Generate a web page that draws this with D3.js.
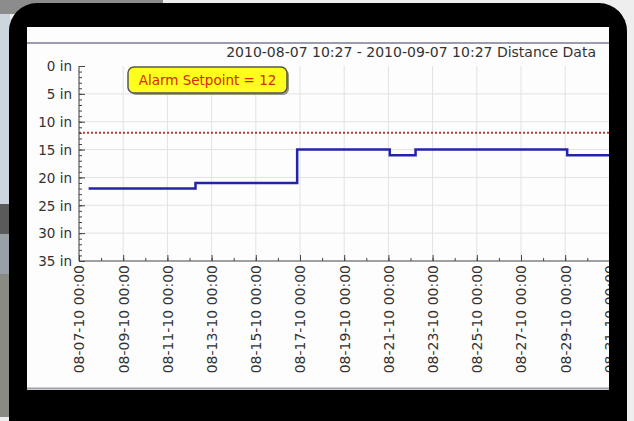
<!DOCTYPE html>
<html>
<head>
<meta charset="utf-8">
<script src="https://d3js.org/d3.v7.min.js"></script>
<style>
    body { margin: 0; background: #ececec; }
    svg { display: block; }
    text { font-family: "DejaVu Sans", sans-serif; }
</style>
</head>
<body>
<svg class="photo"></svg>
<script>
// Data: step changes of the distance reading.
var changeTimes = ["2010-08-07 10:27", "2010-08-12 06:30", "2010-08-16 20:55",
    "2010-08-21 01:30", "2010-08-22 05:30", "2010-08-29 02:10"];
var distances = [22, 21, 15, 16, 15, 16];
var rangeStart = "2010-08-07 10:27",
    rangeEnd = "2010-09-07 10:27";
var alarmSetpoint = 12;
var yTicks = [0, 5, 10, 15, 20, 25, 30, 35];

var parseTime = d3.timeParse("%Y-%m-%d %H:%M");

var width = 634,
    height = 421;

// The chart sits on a tablet screen, so the page is a photo of the device.
var screen = {left: 27, top: 27, right: 609, bottom: 390};
var plot = {left: 79, top: 66, bottom: 261};

var svg = d3.select(".photo")
    .attr("width", width)
    .attr("height", height);

// Background behind the device.
svg.append("rect").attr("width", width).attr("height", height).attr("fill", "#eeeeee");
svg.append("rect").attr("width", 163).attr("height", 14).attr("fill", "#8c8c8c");
svg.append("rect").attr("y", 14).attr("width", 10).attr("height", 190).attr("fill", "#cdd5de");
svg.append("rect").attr("y", 204).attr("width", 10).attr("height", 30).attr("fill", "#5a5a5a");
svg.append("rect").attr("y", 234).attr("width", 10).attr("height", 40).attr("fill", "#9aa0a8");
svg.append("rect").attr("y", 274).attr("width", 10).attr("height", 143).attr("fill", "#8a8a84");

// Device body.
svg.append("rect")
    .attr("x", 9).attr("y", 3)
    .attr("width", 618).attr("height", 460)
    .attr("rx", 28)
    .attr("fill", "#000");

// Screen.
svg.append("rect")
    .attr("x", screen.left).attr("y", screen.top)
    .attr("width", screen.right - screen.left)
    .attr("height", screen.bottom - screen.top)
    .attr("fill", "#fdfdfd");

svg.append("clipPath").attr("id", "screenClip")
    .append("rect")
    .attr("x", screen.left).attr("y", screen.top)
    .attr("width", screen.right - screen.left)
    .attr("height", screen.bottom - screen.top);

var g = svg.append("g").attr("clip-path", "url(#screenClip)");

// Header separator and bottom border of the app window.
g.append("line")
    .attr("x1", screen.left).attr("x2", screen.right)
    .attr("y1", 43).attr("y2", 43)
    .attr("stroke", "#9c9cac").attr("stroke-width", 2);
g.append("line")
    .attr("x1", screen.left).attr("x2", screen.right)
    .attr("y1", 388.5).attr("y2", 388.5)
    .attr("stroke", "#a0a0a8").attr("stroke-width", 2);

// Scales.
var t0 = d3.timeDay.floor(parseTime(rangeStart)),
    t1 = parseTime(rangeEnd);

var x = d3.scaleTime()
    .domain([t0, t1])
    .range([plot.left, plot.left + 22.1 * (t1 - t0) / 864e5]);

var y = d3.scaleLinear()
    .domain([0, 35])
    .range([plot.top, plot.bottom]);

// Only the ticks that fall on the visible part of the screen.
var minorDays = d3.timeDay.range(t0, t1).filter(function (d) {
    return x(d) <= screen.right + 2;
});
var majorDays = minorDays.filter(function (d, i) { return i % 2 === 0; });

// Grid lines.
g.selectAll(".vgrid")
    .data(majorDays)
    .enter().append("line")
    .attr("x1", function (d) { return x(d); })
    .attr("x2", function (d) { return x(d); })
    .attr("y1", plot.top).attr("y2", plot.bottom)
    .attr("stroke", "#e2e2e2");

g.selectAll(".hgrid")
    .data(yTicks.slice(1, -1))
    .enter().append("line")
    .attr("x1", plot.left).attr("x2", screen.right)
    .attr("y1", function (d) { return y(d); })
    .attr("y2", function (d) { return y(d); })
    .attr("stroke", "#e2e2e2");

// Alarm setpoint line.
g.append("line")
    .attr("x1", plot.left).attr("x2", screen.right)
    .attr("y1", y(alarmSetpoint)).attr("y2", y(alarmSetpoint))
    .attr("stroke", "#b83a3a")
    .attr("stroke-width", 2)
    .attr("stroke-dasharray", "2,2");

// Distance data as a step line.
var points = changeTimes.map(function (t, i) {
    return {date: parseTime(t), value: distances[i]};
});
points.push({date: t1, value: distances[distances.length - 1]});

var line = d3.line()
    .curve(d3.curveStepAfter)
    .x(function (d) { return x(d.date); })
    .y(function (d) { return y(d.value); });

g.append("path")
    .datum(points)
    .attr("d", line)
    .attr("fill", "none")
    .attr("stroke", "#2424a8")
    .attr("stroke-width", 2.5);

// Y axis with minor ticks, ticks pointing into the plot.
g.append("g")
    .attr("transform", "translate(" + plot.left + ",0)")
    .call(d3.axisRight(y).tickValues(d3.range(0, 36)).tickSize(3).tickFormat(""))
    .call(function (a) { a.select(".domain").remove(); })
    .selectAll("line").attr("stroke", "#444");

g.append("g")
    .attr("transform", "translate(" + plot.left + ",0)")
    .call(d3.axisRight(y).tickValues(yTicks).tickSize(6)
        .tickFormat(function (d) { return d + " in"; }))
    .call(function (a) {
        a.select(".domain").attr("d", "M0," + plot.top + "V" + plot.bottom).attr("stroke", "#444");
        a.selectAll("line").attr("stroke", "#444");
        a.selectAll("text")
            .attr("x", -7)
            .attr("dy", "0.35em")
            .attr("text-anchor", "end")
            .attr("fill", "#333")
            .style("font-size", "13.5px");
    });

// X axis with minor ticks.
g.append("g")
    .attr("transform", "translate(0," + plot.bottom + ")")
    .call(d3.axisBottom(x).tickValues(minorDays).tickSize(-3).tickFormat(""))
    .call(function (a) { a.select(".domain").remove(); })
    .selectAll("line").attr("stroke", "#444");

g.append("g")
    .attr("transform", "translate(0," + plot.bottom + ")")
    .call(d3.axisBottom(x).tickValues(majorDays).tickSize(-6)
        .tickFormat(d3.timeFormat("%m-%d-%y %H:%M")))
    .call(function (a) {
        a.select(".domain").attr("d", "M" + plot.left + ",0H" + screen.right).attr("stroke", "#444");
        a.selectAll("line").attr("stroke", "#444");
        a.selectAll("text")
            .attr("transform", "rotate(-90)")
            .attr("x", -4)
            .attr("y", 0)
            .attr("dy", "0.35em")
            .attr("text-anchor", "end")
            .attr("fill", "#333")
            .style("font-size", "14px");
    });

// Title.
g.append("text")
    .attr("x", 596).attr("y", 57)
    .attr("text-anchor", "end")
    .attr("fill", "#333")
    .style("font-size", "14px")
    .text(d3.timeFormat("%Y-%m-%d %H:%M")(parseTime(rangeStart)) + " - " +
        d3.timeFormat("%Y-%m-%d %H:%M")(t1) + " Distance Data");

// Alarm setpoint annotation.
var note = g.append("g").attr("transform", "translate(128,67)");
note.append("rect")
    .attr("x", 2).attr("y", 2)
    .attr("width", 159).attr("height", 26)
    .attr("rx", 6)
    .attr("fill", "#9a9a80");
note.append("rect")
    .attr("width", 159).attr("height", 26)
    .attr("rx", 6)
    .attr("fill", "#ffff1e")
    .attr("stroke", "#555")
    .attr("stroke-width", 1.5);
note.append("text")
    .attr("x", 79.5).attr("y", 13)
    .attr("dy", "0.35em")
    .attr("text-anchor", "middle")
    .attr("fill", "#d42a00")
    .style("font-size", "13.5px")
    .text("Alarm Setpoint = " + alarmSetpoint);
</script>
</body>
</html>
